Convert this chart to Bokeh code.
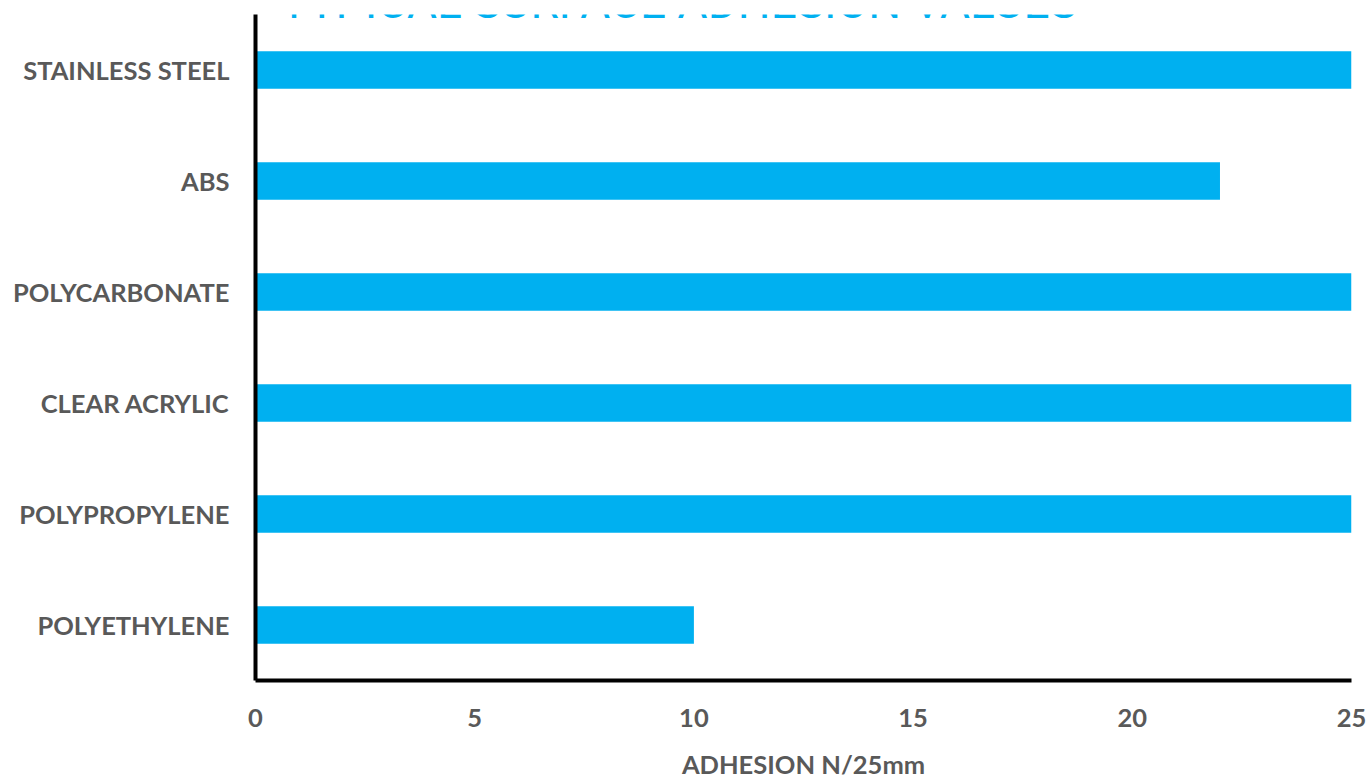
from bokeh.plotting import figure
from bokeh.models import FactorRange, Range1d, Label, FixedTicker
from bokeh.embed import file_html
from bokeh.resources import INLINE

# ---- data ----
materials = ["STAINLESS STEEL", "ABS", "POLYCARBONATE", "CLEAR ACRYLIC",
             "POLYPROPYLENE", "POLYETHYLENE"]
adhesion = [25, 22, 25, 25, 25, 10]
x_ticks = [0, 5, 10, 15, 20, 25]
title_text = "TYPICAL SURFACE ADHESION VALUES"
x_axis_title = "ADHESION N/25mm"

# ---- style ----
BAR = "#00B0F0"
GRAY = "#595959"
FONT = "Lato"

p = figure(frame_width=1096, frame_height=666,
           y_range=FactorRange(factors=list(reversed(materials))),
           x_range=Range1d(0, 25),
           output_backend="svg", toolbar_location=None,
           min_border_left=255, min_border_right=16,
           min_border_top=14, min_border_bottom=95)

p.hbar(y=materials, left=0, right=adhesion, height=0.34,
       fill_color=BAR, line_color=None)

p.grid.visible = False
p.outline_line_color = None

for ax in (p.xaxis[0], p.yaxis[0]):
    ax.axis_line_width = 4
    ax.axis_line_color = "black"
    ax.major_tick_line_color = None
    ax.minor_tick_line_color = None
    ax.major_tick_out = 0
    ax.major_tick_in = 0
    ax.major_label_text_font = FONT
    ax.major_label_text_font_style = "bold"
    ax.major_label_text_font_size = "25.5px"
    ax.major_label_text_color = GRAY

p.xaxis.ticker = FixedTicker(ticks=x_ticks)
p.xaxis.major_label_standoff = 28
p.yaxis.major_label_standoff = 26

p.xaxis.axis_label = x_axis_title
p.xaxis.axis_label_text_font = FONT
p.xaxis.axis_label_text_font_style = "bold"
p.xaxis.axis_label_text_font_size = "25.5px"
p.xaxis.axis_label_text_color = GRAY
p.xaxis.axis_label_standoff = 19

# chart title, partly above the top edge as in the original
title = Label(x=9.65, y=6.117, text=title_text, text_align="center",
              text_baseline="alphabetic", text_font="Roboto",
              text_font_size="46px", text_color=BAR)
p.add_layout(title)

open("out.html", "w").write(file_html(p, INLINE))
